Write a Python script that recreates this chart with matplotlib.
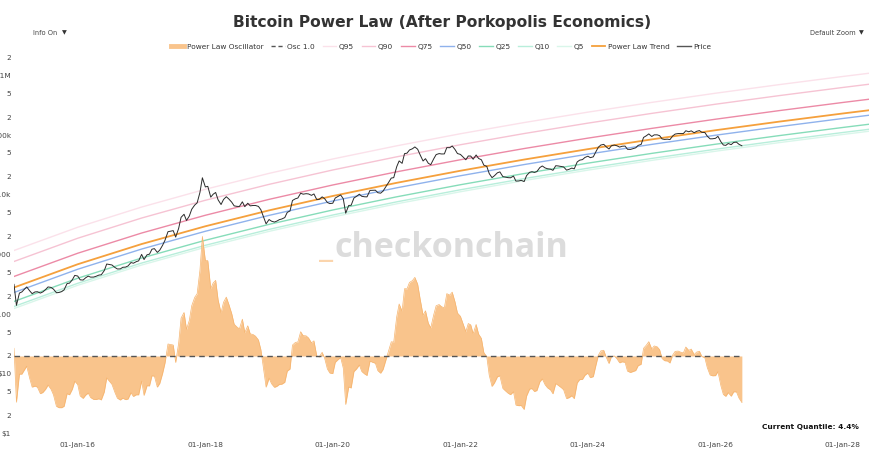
import matplotlib
matplotlib.use('Agg')
import matplotlib.pyplot as plt
import matplotlib.dates as mdates
from matplotlib.lines import Line2D
from matplotlib.ticker import FixedLocator, FixedFormatter
import numpy as np
import pandas as pd


# semi-monthly samples (1st and 15th), Jan 2015 -> Jun 2026
dates = pd.date_range('2015-01-01', '2026-06-01', freq='SMS')

price = [
    # 2015
    315, 140, 225, 235, 260, 285, 245, 220, 235, 237, 225, 235,
    258, 285, 280, 262, 228, 230, 238, 255, 325, 330, 375, 445,
    # 2016
    434, 375, 372, 405, 432, 416, 417, 430, 450, 456, 535, 690,
    675, 665, 605, 570, 572, 608, 613, 640, 730, 712, 755, 780,
    # 2017
    1000, 820, 985, 1010, 1220, 1250, 1080, 1180, 1420, 1730, 2400, 2450,
    2500, 1950, 2720, 4180, 4700, 3700, 4380, 5700, 6700, 7300, 10900, 19200,
    # 2018
    13500, 13800, 9100, 10200, 10900, 8200, 6850, 8300, 9250, 8500, 7500, 6500,
    6380, 6350, 7600, 6300, 7200, 6500, 6600, 6600, 6370, 5600, 4200, 3250,
    # 2019
    3840, 3600, 3480, 3620, 3820, 3920, 4140, 5050, 5350, 8000, 8550, 8800,
    10600, 10200, 10400, 10300, 9750, 10300, 8300, 8350, 9200, 8600, 7400, 7100,
    # 2020
    7200, 8800, 9400, 9900, 8550, 4900, 6600, 6650, 8800, 9350, 10200, 9400,
    9230, 9200, 11800, 11850, 11900, 10800, 10600, 11500, 13750, 15950, 19000, 19300,
    # 2021
    29400, 36800, 33500, 48800, 49600, 56000, 58800, 63100, 57800, 46700, 36700, 40100,
    33600, 31800, 39900, 47000, 48800, 48100, 48200, 61500, 61300, 65500, 57200, 48900,
    # 2022
    47300, 43100, 38500, 44500, 44400, 39300, 46300, 40500, 38500, 31300, 29800, 22600,
    19300, 20800, 23300, 24100, 20100, 19700, 19300, 19200, 20500, 16900, 17000, 17400,
    # 2023
    16600, 20900, 23700, 24300, 23600, 24400, 28500, 30300, 28100, 27200, 26800, 25600,
    30600, 30300, 29700, 29200, 25800, 26600, 27900, 27100, 35400, 37900, 38700, 42000,
    # 2024
    44200, 41700, 43100, 51800, 62400, 67900, 69700, 63400, 58300, 66200, 67800, 66000,
    62700, 64800, 65300, 57600, 57300, 59100, 61000, 67000, 69500, 91000, 97200, 104300,
    # 2025
    94400, 100500, 100600, 97500, 86000, 84300, 85200, 83700, 96500, 103700, 105700, 105500,
    105700, 117800, 113300, 117400, 109200, 115300, 118600, 110700, 110100, 95500, 86300, 86400,
    # 2026
    88000, 95000, 77000, 68000, 67000, 72000, 69000, 75000, 76000, 70000, 66000,
]

osc = [
    # 2015
    1.13, 0.48, 0.75, 0.75, 0.80, 0.85, 0.70, 0.61, 0.62, 0.61, 0.55, 0.56,
    0.59, 0.63, 0.59, 0.54, 0.45, 0.44, 0.44, 0.45, 0.55, 0.54, 0.59, 0.67,
    # 2016
    0.635, 0.531, 0.510, 0.537, 0.555, 0.517, 0.502, 0.501, 0.507, 0.498, 0.565, 0.706,
    0.668, 0.638, 0.561, 0.512, 0.497, 0.512, 0.500, 0.505, 0.558, 0.526, 0.540, 0.540,
    # 2017
    0.671, 0.535, 0.624, 0.622, 0.730, 0.727, 0.610, 0.648, 0.758, 0.897, 1.210, 1.200,
    1.190, 0.902, 1.223, 1.826, 1.995, 1.526, 1.756, 2.221, 2.537, 2.686, 3.898, 6.672,
    # 2018
    4.559, 4.543, 2.920, 3.190, 3.323, 2.437, 1.984, 2.344, 2.546, 2.281, 1.961, 1.657,
    1.585, 1.538, 1.794, 1.450, 1.615, 1.421, 1.407, 1.371, 1.290, 1.105, 0.808, 0.610,
    # 2019
    0.703, 0.644, 0.608, 0.618, 0.637, 0.639, 0.659, 0.786, 0.814, 1.189, 1.241, 1.249,
    1.470, 1.382, 1.377, 1.332, 1.232, 1.272, 1.002, 0.985, 1.060, 0.968, 0.814, 0.763,
    # 2020
    0.757, 0.905, 0.947, 0.976, 0.825, 0.463, 0.611, 0.602, 0.781, 0.812, 0.867, 0.782,
    0.752, 0.734, 0.922, 0.906, 0.891, 0.792, 0.761, 0.808, 0.946, 1.074, 1.253, 1.246,
    # 2021
    1.860, 2.283, 2.038, 2.912, 2.903, 3.214, 3.310, 3.484, 3.130, 2.480, 1.912, 2.049,
    1.684, 1.563, 1.923, 2.222, 2.263, 2.187, 2.150, 2.690, 2.630, 2.756, 2.360, 1.979,
    # 2022
    1.878, 1.680, 1.474, 1.674, 1.640, 1.426, 1.650, 1.417, 1.323, 1.056, 0.988, 0.736,
    0.617, 0.653, 0.719, 0.730, 0.598, 0.576, 0.554, 0.541, 0.567, 0.459, 0.454, 0.456,
    # 2023
    0.428, 0.530, 0.591, 0.596, 0.569, 0.578, 0.664, 0.695, 0.634, 0.603, 0.584, 0.549,
    0.645, 0.628, 0.606, 0.585, 0.509, 0.516, 0.532, 0.508, 0.653, 0.687, 0.690, 0.736,
    # 2024
    0.763, 0.709, 0.721, 0.853, 1.012, 1.084, 1.095, 0.981, 0.888, 0.992, 1.000, 0.959,
    0.897, 0.912, 0.905, 0.786, 0.770, 0.781, 0.794, 0.858, 0.877, 1.130, 1.188, 1.255,
    # 2025
    1.118, 1.173, 1.157, 1.105, 0.961, 0.928, 0.924, 0.895, 1.016, 1.076, 1.081, 1.063,
    1.050, 1.153, 1.093, 1.116, 1.023, 1.064, 1.078, 0.992, 0.972, 0.831, 0.740, 0.730,
    # 2026
    0.732, 0.780, 0.623, 0.543, 0.527, 0.559, 0.528, 0.566, 0.566, 0.514, 0.478,
]

# power law bands read at yearly anchors
line_dates = pd.to_datetime([f'{y}-01-01' for y in range(2015, 2029)] + ['2028-07-01'])
trend = [279, 684, 1491, 2959, 5465, 9517, 15810, 25190, 38790, 57940,
         84420, 120200, 167500, 229500, 266900]
q95 = [1163, 2850, 6213, 12330, 22773, 39657, 65880, 104967, 161638, 241436,
       351778, 500873, 697973, 956327, 1112172]
q90 = [761, 1865, 4066, 8069, 14903, 25953, 43114, 68693, 105780, 158002,
       230213, 327785, 456773, 625847, 727836]
q75 = [427, 1046, 2280, 4524, 8356, 14551, 24173, 38516, 59310, 88590,
       129078, 183786, 256108, 350906, 408090]
q50 = [230, 564, 1229, 2440, 4506, 7847, 13035, 20769, 31982, 47772,
       69604, 99105, 138104, 189223, 220059]
q25 = [163, 399, 869, 1725, 3186, 5548, 9217, 14686, 22615, 33779,
       49217, 70077, 97653, 133799, 155603]
q10 = [134, 328, 716, 1420, 2623, 4568, 7589, 12091, 18619, 27811,
       40522, 57696, 80400, 110160, 128112]
q5 = [124, 304, 664, 1317, 2432, 4235, 7036, 11210, 17262, 25783,
      37567, 53489, 74538, 102128, 118771]

current_quantile = 4.4

bands = [('Q95', q95, '#fbe1ea'), ('Q90', q90, '#f6c3d3'), ('Q75', q75, '#ec8aa6'),
         ('Q50', q50, '#8fb2ec'), ('Q25', q25, '#86dcb9'), ('Q10', q10, '#b8eedb'),
         ('Q5', q5, '#d9f6ea')]
osc_color = '#f9c48c'
trend_color = '#f5a03c'
price_color = '#2b2b2b'

fig = plt.figure(figsize=(8.7, 4.68), dpi=100)
W, H = 870, 468
ax = fig.add_axes([14 / W, 30 / H, 856 / W, 388 / H])
ax2 = ax.twinx()

ax.set_yscale('log')
ax.set_ylim(10 ** -0.0754, 10 ** 6.4238)
ax2.set_yscale('log')
ax2.set_ylim(10 ** -0.5655, 10 ** 2.110)
ax.set_xlim(pd.Timestamp('2015-01-01'), pd.Timestamp('2028-06-04'))

for name, vals, col in bands:
    ax.plot(line_dates, vals, color=col, lw=1.0, zorder=2)
ax.plot(line_dates, trend, color=trend_color, lw=1.3, zorder=3)
ax.plot(dates, price, color=price_color, lw=0.7, zorder=4)

ax2.fill_between(dates, 1.0, osc, color=osc_color, lw=0, zorder=1)
ax2.plot(dates, osc, color='#f6b46e', lw=0.5, zorder=2)
ax2.plot(dates, np.ones(len(dates)), color='#555555', lw=1.0, ls=(0, (4, 3)), zorder=3)

# watermark
fig.text(335 / W, 1 - 257 / H, 'checkonchain', fontsize=24.5, family='Open Sans',
         fontweight='bold', color='#dcdcdc', ha='left', va='baseline', zorder=0)
fig.text(333 / W, 1 - 257 / H, '_', fontsize=24.5, family='Open Sans',
         fontweight='bold', color='#fbd5ad', ha='right', va='baseline', zorder=0)

# axes styling
for a in (ax, ax2):
    for s in a.spines.values():
        s.set_visible(False)
ax2.set_yticks([])
ax2.yaxis.set_minor_locator(FixedLocator([]))

major = [1, 10, 100, 1000, 1e4, 1e5, 1e6]
major_lbl = ['$1', '$10', '$100', '$1000', '$10k', '$100k', '$1M']
minor = []
minor_lbl = []
for k in range(0, 7):
    for m in (2, 5):
        minor.append(m * 10 ** k)
        minor_lbl.append(str(m))
ax.yaxis.set_major_locator(FixedLocator(major))
ax.yaxis.set_major_formatter(FixedFormatter(major_lbl))
ax.yaxis.set_minor_locator(FixedLocator(minor))
ax.yaxis.set_minor_formatter(FixedFormatter(minor_lbl))
ax.tick_params(axis='y', which='both', length=0, pad=2, labelsize=5.3, labelcolor='#444444')

ax.xaxis.set_major_locator(mdates.YearLocator(2))
ax.xaxis.set_major_formatter(mdates.DateFormatter('%d-%b-%y'))
ax.tick_params(axis='x', length=0, pad=3, labelsize=5.3, labelcolor='#444444')

# title and menus
fig.text(442 / W, 1 - 22 / H, 'Bitcoin Power Law (After Porkopolis Economics)', ha='center', va='center',
         fontsize=11.2, fontweight='bold', color='#333333')
fig.text(33 / W, 1 - 33 / H, 'Info On', ha='left', va='center', fontsize=4.8, color='#444444')
fig.text(62 / W, 1 - 33 / H, '\u25bc', ha='left', va='center', fontsize=4.5, color='#333333')
fig.text(810 / W, 1 - 33 / H, 'Default Zoom', ha='left', va='center', fontsize=4.8, color='#444444')
fig.text(859 / W, 1 - 33 / H, '\u25bc', ha='left', va='center', fontsize=4.5, color='#333333')
fig.text(859 / W, 1 - 427 / H, f'Current Quantile: {current_quantile}%', ha='right', va='center',
         fontsize=5.3, fontweight='bold', color='#111111')

# legend
handles = [Line2D([], [], color=osc_color, lw=3.5),
           Line2D([], [], color='#555555', lw=1.0, ls=(0, (3, 2)))]
labels = ['Power Law Oscillator', 'Osc 1.0']
for name, vals, col in bands:
    handles.append(Line2D([], [], color=col, lw=1.0))
    labels.append(name)
handles += [Line2D([], [], color=trend_color, lw=1.3), Line2D([], [], color='#555555', lw=1.0)]
labels += ['Power Law Trend', 'Price']
fig.legend(handles, labels, loc='center', bbox_to_anchor=(441 / W, 1 - 47 / H), ncol=len(labels),
           frameon=False, fontsize=5.3, handlelength=1.85, handletextpad=0.35, columnspacing=1.05,
           labelcolor='#333333', borderpad=0.2)

fig.savefig('out.png', dpi=100)
